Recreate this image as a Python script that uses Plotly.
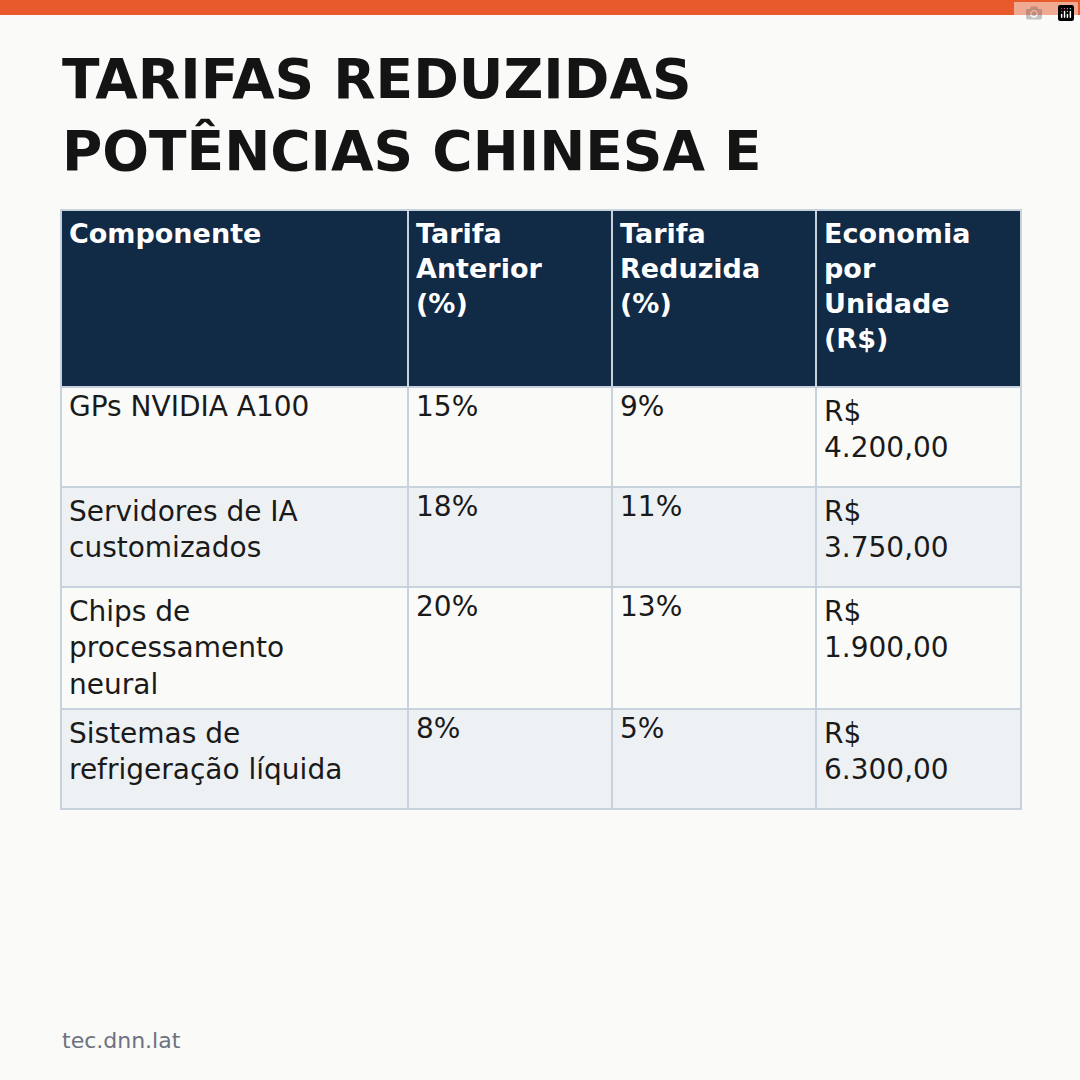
import plotly.graph_objects as go

headers = ["Componente", "Tarifa<br>Anterior<br>(%)", "Tarifa<br>Reduzida<br>(%)", "Economia<br>por<br>Unidade<br>(R$)"]
componentes = ["GPs NVIDIA A100", "Servidores de IA<br>customizados", "Chips de<br>processamento<br>neural", "Sistemas de<br>refrigeração líquida"]
anterior = ["15%", "18%", "20%", "8%"]
reduzida = ["9%", "11%", "13%", "5%"]
economia = ["R$<br>4.200,00", "R$<br>3.750,00", "R$<br>1.900,00", "R$<br>6.300,00"]

W = 1080
fills = ["#FAFAF8", "#EDF1F4", "#FAFAF8", "#EDF1F4"]
fig = go.Figure(go.Table(
    domain=dict(x=[61/W, 1021/W], y=[0, 1-210/W]),
    columnwidth=[347, 204, 204, 205],
    header=dict(values=["<b>%s</b>" % h for h in headers], fill_color="#112A45",
                line=dict(color="#C8D2DC", width=1.5), align="left", height=177,
                font=dict(family="DejaVu Sans", size=27, color="white")),
    cells=dict(values=[componentes, anterior, reduzida, economia],
               fill_color=[fills]*4, line=dict(color="#C8D2DC", width=1.5),
               align="left", height=100,
               font=dict(family="DejaVu Sans", size=28, color="#1A1A1A")),
))
fig.add_shape(type="rect", xref="paper", yref="paper", x0=0, x1=1, y0=1-15/W, y1=1,
              fillcolor="#E85A2C", line_width=0)
fig.add_annotation(xref="paper", yref="paper", x=60/W, y=1-45/W, xanchor="left", yanchor="top",
                   align="left", showarrow=False,
                   text="<b>TARIFAS REDUZIDAS<br>POTÊNCIAS CHINESA E</b>",
                   font=dict(family="DejaVu Sans", size=55, color="#141414"))
fig.add_annotation(xref="paper", yref="paper", x=60/W, y=1-1040/W, xanchor="left", yanchor="middle",
                   showarrow=False, text="tec.dnn.lat",
                   font=dict(family="DejaVu Sans", size=22, color="#6B7280"))
fig.update_layout(width=W, height=W, margin=dict(l=0, r=0, t=0, b=0),
                  paper_bgcolor="#FAFAF8", plot_bgcolor="#FAFAF8")
fig.write_html("out.html")
with open("out.html", encoding="utf-8") as f:
    html = f.read()
html = html.replace("<body>", '<body style="margin:0;background:#FAFAF8">', 1)
with open("out.html", "w", encoding="utf-8") as f:
    f.write(html)
